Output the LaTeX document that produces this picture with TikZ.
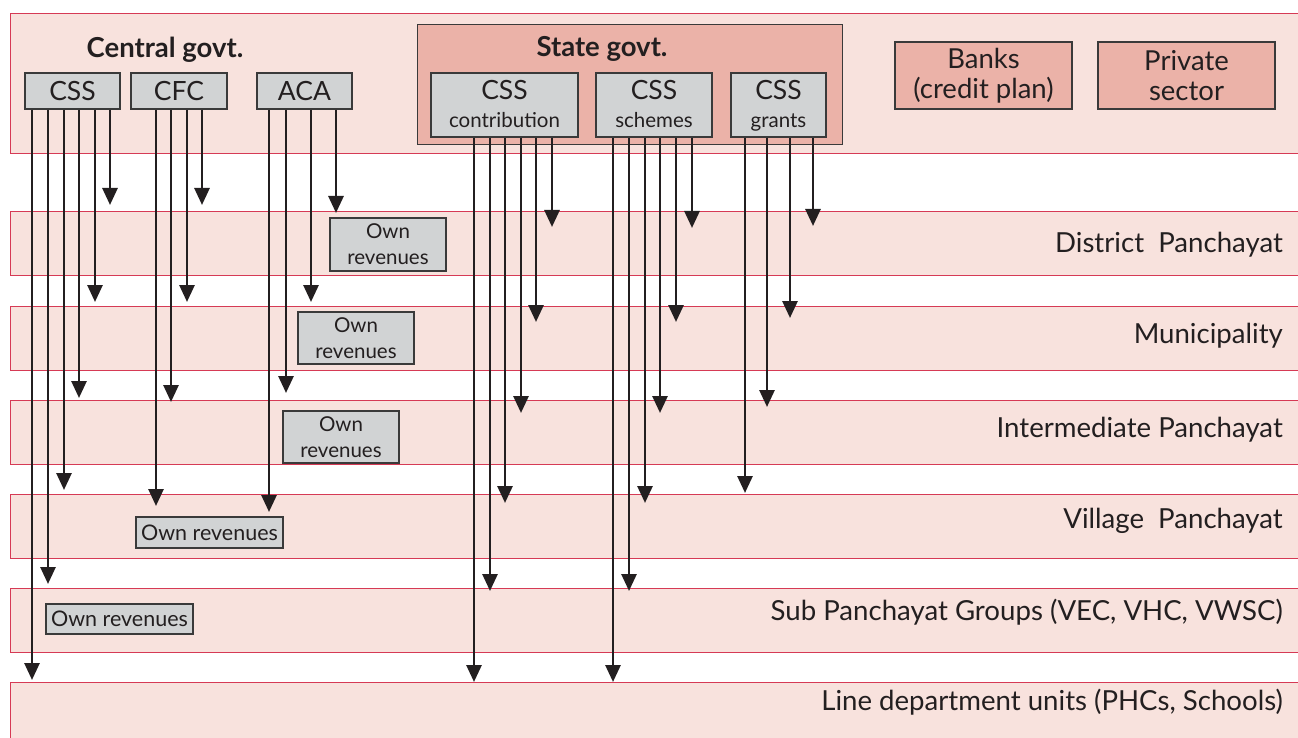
\documentclass[tikz,border=0pt]{standalone}
\usepackage{fontspec}
\setmainfont{Lato}
\usetikzlibrary{arrows.meta}
\definecolor{bandfill}{HTML}{F8E2DD}
\definecolor{bandline}{HTML}{D63A55}
\definecolor{salmon}{HTML}{EBB2A8}
\definecolor{boxgray}{HTML}{D1D3D4}
\definecolor{bord}{HTML}{3A3A3A}
\definecolor{ink}{HTML}{231F20}
\tikzset{
  band/.style={draw=bandline, line width=1.3pt, fill=bandfill, anchor=north west, inner sep=0pt},
  gbox/.style={draw=bord, line width=1.2pt, fill=boxgray, inner sep=0pt, text=ink, align=center},
  sbox/.style={draw=bord, line width=1.2pt, fill=salmon, inner sep=0pt, text=ink, align=center},
  lab/.style={anchor=base east, inner sep=0pt, text=ink, font=\fontsize{27.6}{30}\selectfont},
  ttl/.style={anchor=base, inner sep=0pt, text=ink, font=\bfseries\fontsize{27.5}{30}\selectfont},
  arr/.style={draw=ink, line width=2.8pt, -{Triangle[length=17pt,width=15pt]}},
  big/.style={font=\fontsize{26.5}{30}\selectfont},
  own/.style={font=\fontsize{20.5}{26}\selectfont},
}
\begin{document}
\begin{tikzpicture}[x=1pt,y=-1pt]
\useasboundingbox (0,0) rectangle (1298,738);
% bands
\node[band, minimum width=1292, minimum height=140] (top) at (10,13) {};
\node[band, minimum width=1292, minimum height=64] (dp) at (10,211) {};
\node[band, minimum width=1292, minimum height=64] (mu) at (10,306) {};
\node[band, minimum width=1292, minimum height=64] (ip) at (10,400) {};
\node[band, minimum width=1292, minimum height=64] (vp) at (10,494) {};
\node[band, minimum width=1292, minimum height=64] (sp) at (10,588) {};
\node[band, minimum width=1292, minimum height=70] (ld) at (10,682) {};
% band labels
\node[lab] (dpl) at (1283,252) {District\ \ Panchayat};
\node[lab] (mul) at (1283,343) {Municipality};
\node[lab] (ipl) at (1283,437) {Intermediate Panchayat};
\node[lab] (vpl) at (1283,528) {Village\ \ Panchayat};
\node[lab] (spl) at (1283,620) {Sub Panchayat Groups (VEC, VHC, VWSC)};
\node[lab] (ldl) at (1283,710) {Line department units (PHCs, Schools)};
% central govt
\node[ttl] (cg) at (165,58) {Central govt.};
\node[gbox, big, minimum width=95, minimum height=36] (css) at (72.5,91) {CSS};
\node[gbox, big, minimum width=96, minimum height=36] (cfc) at (179,91) {CFC};
\node[gbox, big, minimum width=95, minimum height=36] (aca) at (304.5,91) {ACA};
% state govt
\node[sbox, anchor=north west, minimum width=425, minimum height=120] (sg) at (417,24) {};
\node[ttl] (sgt) at (602,57) {State govt.};
\node[gbox, minimum width=147, minimum height=64] (con) at (504.5,105) {};
\node[gbox, minimum width=116, minimum height=64] (sch) at (654,105) {};
\node[gbox, minimum width=95, minimum height=64] (gra) at (778.5,105) {};
\foreach \n/\t in {con/contribution, sch/schemes, gra/grants}{
  \node[big, anchor=base, inner sep=0pt, text=ink] (\n a) at (\n.north |- 0,100) {CSS};
  \node[anchor=base, inner sep=0pt, text=ink, font=\fontsize{20.5}{22}\selectfont] (\n b) at (\n.north |- 0,128) {\t};
}
% banks, private
\node[sbox, minimum width=177, minimum height=67, font=\fontsize{27.5}{30}\selectfont] (bank) at (983.5,75.5) {Banks\\(credit plan)};
\node[sbox, minimum width=177, minimum height=67, font=\fontsize{27.5}{30}\selectfont] (priv) at (1186.5,75.5) {Private\\sector};
% own revenues
\node[gbox, own, minimum width=116, minimum height=53] (or1) at (388,244.5) {Own\\revenues};
\node[gbox, own, minimum width=116, minimum height=52] (or2) at (356,338) {Own\\revenues};
\node[gbox, own, minimum width=116, minimum height=52] (or3) at (341,437) {Own\\revenues};
\node[gbox, own, minimum width=147, minimum height=31, font=\fontsize{21.5}{26}\selectfont] (or4) at (209.5,532.5) {Own revenues};
\node[gbox, own, minimum width=147, minimum height=30, font=\fontsize{21.5}{26}\selectfont] (or5) at (119.5,619) {Own revenues};
% arrows
\foreach \x/\y in {32/680, 48/584, 64/490, 79/398, 95/302, 110/205}
  \draw[arr] (css.south -| \x,0) -- (\x,\y);
\foreach \x/\y in {156/506, 171/402, 187/302, 202/205}
  \draw[arr] (cfc.south -| \x,0) -- (\x,\y);
\foreach \x/\y in {269/512, 286/393, 311/302, 336/213}
  \draw[arr] (aca.south -| \x,0) -- (\x,\y);
\foreach \x/\y in {474/682, 490/591, 505/503, 521/413, 536/322, 552/227}
  \draw[arr] (con.south -| \x,0) -- (\x,\y);
\foreach \x/\y in {613/682, 629/591, 645/503, 660/413, 676/322, 692/228}
  \draw[arr] (sch.south -| \x,0) -- (\x,\y);
\foreach \x/\y in {745/493, 767/407, 790/318, 813/226}
  \draw[arr] (gra.south -| \x,0) -- (\x,\y);
\end{tikzpicture}
\end{document}
